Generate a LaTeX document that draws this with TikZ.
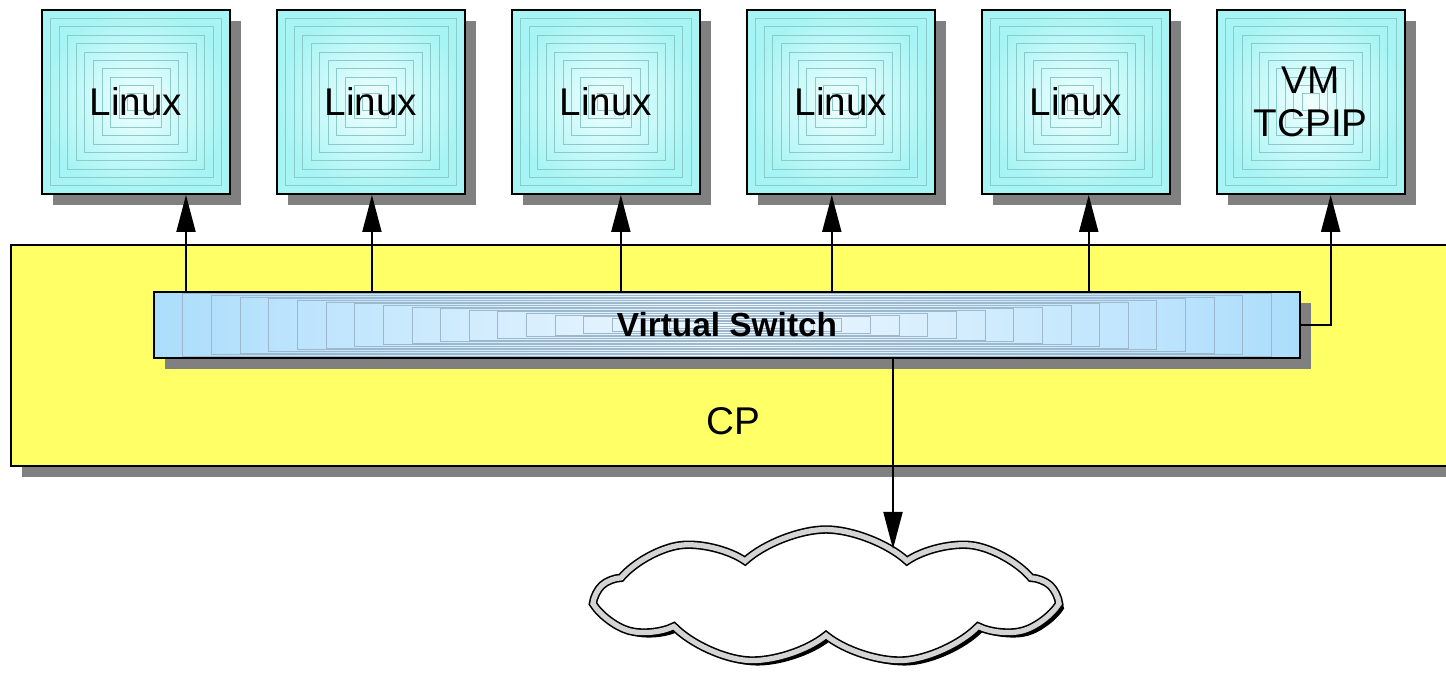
\documentclass[tikz,border=0pt]{standalone}
\usepackage{fontspec}
\setmainfont{Liberation Sans}
\usetikzlibrary{shapes.symbols, arrows.meta, positioning, shadows, calc}
\definecolor{cpyellow}{HTML}{FFFF66}
\definecolor{vmcyan}{HTML}{A6F4F4}
\definecolor{vmlight}{HTML}{F2FFFF}
\definecolor{vmline}{HTML}{8CCACA}
\definecolor{swblue}{HTML}{ABDDFC}
\definecolor{swlight}{HTML}{F0F8FF}
\definecolor{swline}{HTML}{9DB8CC}
\definecolor{cloudgray}{HTML}{D4D4D4}
\tikzset{
  nested/.style 2 args={path picture={
    \foreach \k in {1,...,#1}
      \draw[#2, line width=0.35pt] ($(path picture bounding box.south west)!\k/(2*#1+2)!(path picture bounding box.north east)$) rectangle ($(path picture bounding box.north east)!\k/(2*#1+2)!(path picture bounding box.south west)$);
  }},
  guest/.style={rectangle, minimum width=3.76cm, minimum height=3.68cm, align=center, draw=black, line width=1.1pt, inner color=vmlight, outer color=vmcyan, nested={10}{vmline}, font=\fontsize{22}{24.5}\selectfont, drop shadow={shadow xshift=0.22cm, shadow yshift=-0.22cm, fill=black!50, opacity=1}},
  cpbox/.style={rectangle, minimum width=28.98cm, minimum height=4.42cm, draw=black, line width=1.1pt, fill=cpyellow, drop shadow={shadow xshift=0.22cm, shadow yshift=-0.22cm, fill=black!50, opacity=1}},
  vswitch/.style={rectangle, minimum width=22.92cm, minimum height=1.32cm, draw=black, line width=1.1pt, left color=swblue, right color=swblue, middle color=swlight, nested={19}{swline}, font=\fontsize{19}{22}\selectfont\bfseries, drop shadow={shadow xshift=0.22cm, shadow yshift=-0.22cm, fill=black!50, opacity=1}},
  netcloud/.style={cloud, cloud puffs=9, cloud puff arc=85, aspect=3.3, minimum width=9.1cm, minimum height=2.7cm, draw=black, line width=0.9pt, double=cloudgray, double distance=3pt, fill=white, drop shadow={shadow xshift=0.1cm, shadow yshift=-0.1cm, fill=black, opacity=1}},
  arrow/.style={line width=1.1pt, -{Triangle[length=0.74cm, width=0.38cm]}, color=black}
}
\begin{document}
\begin{tikzpicture}[node distance=0.9cm]
    \useasboundingbox (0,0) rectangle (28.92,-13.48);
    % Hypervisor and switch
    \node[cpbox] (cp) at (14.71,-7.11) {};
    \node[font=\fontsize{22}{24.5}\selectfont] (cplabel) at (14.66,-8.42) {CP};
    \node[vswitch] (switch) at (14.54,-6.5) {Virtual Switch};

    % Guests
    \node[guest] (linux1) at (2.72,-2.04) {Linux};
    \node[guest, right=of linux1] (linux2) {Linux};
    \node[guest, right=of linux2] (linux3) {Linux};
    \node[guest, right=of linux3] (linux4) {Linux};
    \node[guest, right=of linux4] (linux5) {Linux};
    \node[guest, right=of linux5] (tcpip) {VM\\TCPIP};

    % Network
    \node[netcloud] (lan) at (16.52,-11.94) {};

    % Drawing arrows
    \draw[arrow] ([xshift=1cm]linux1.south |- switch.north) -- ([xshift=1cm]linux1.south);
    \draw[arrow] ([xshift=0.02cm]linux2.south |- switch.north) -- ([xshift=0.02cm]linux2.south);
    \draw[arrow] ([xshift=0.3cm]linux3.south |- switch.north) -- ([xshift=0.3cm]linux3.south);
    \draw[arrow] ([xshift=-0.18cm]linux4.south |- switch.north) -- ([xshift=-0.18cm]linux4.south);
    \draw[arrow] ([xshift=0.26cm]linux5.south |- switch.north) -- ([xshift=0.26cm]linux5.south);
    \draw[arrow] (switch.east) -| ([xshift=0.4cm]tcpip.south);
    \draw[arrow] ([xshift=3.32cm]switch.south) -- ++(0,-3.8);
\end{tikzpicture}
\end{document}
